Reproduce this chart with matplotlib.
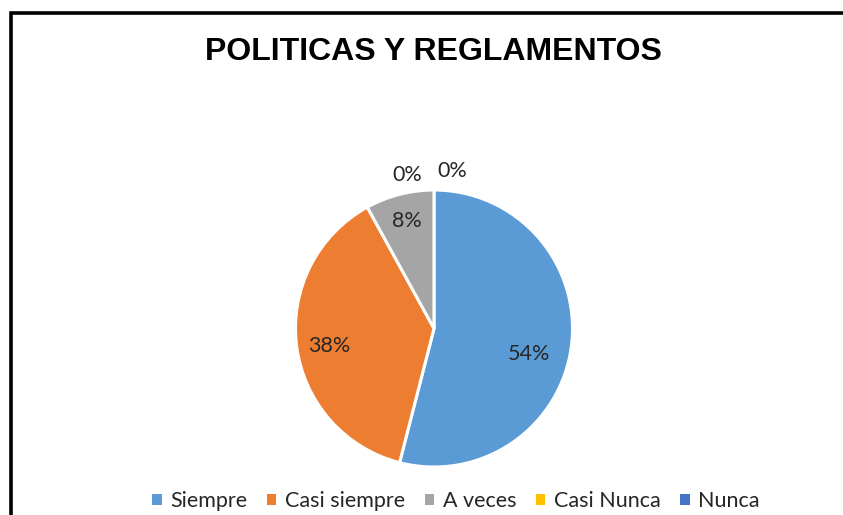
import matplotlib
matplotlib.use("Agg")
import matplotlib.pyplot as plt
from matplotlib.patches import Rectangle, Patch
import numpy as np

title = "POLITICAS Y REGLAMENTOS"
categories = ["Siempre", "Casi siempre", "A veces", "Casi Nunca", "Nunca"]
values = [54, 38, 8, 0, 0]
colors = ["#5B9BD5", "#ED7D31", "#A5A5A5", "#FFC000", "#4472C4"]

W, H = 843, 515
fig = plt.figure(figsize=(W / 100, H / 100), dpi=100)
ax = fig.add_axes([0, 0, 1, 1])

# border
ax.add_patch(Rectangle((10.5, -20), W + 20, H - 12.5 + 20, fill=False,
                       edgecolor="black", linewidth=2.6, zorder=5))

font = "Lato"
cx, cy, r = 434, H - 328.5, 138.5
nz_vals = [v for v in values if v > 0]
nz_cols = [c for v, c in zip(values, colors) if v > 0]
wedges, _ = ax.pie(nz_vals, colors=nz_cols, startangle=90, counterclock=False,
                   center=(cx, cy), radius=r, frame=True,
                   wedgeprops=dict(edgecolor="white", linewidth=2.2))
ax.set_xlim(0, W)
ax.set_ylim(0, H)
ax.set_aspect("equal")
ax.axis("off")

dist = [0.69, 0.76, 0.8]
shift = [-14, -4, 0]
for w, v, d, s in zip(wedges, nz_vals, dist, shift):
    ang = np.deg2rad((w.theta1 + w.theta2) / 2)
    ax.text(cx + d * r * np.cos(ang), cy + d * r * np.sin(ang) + s,
            f"{v}%", ha="center", va="center", fontsize=15.5, family=font, color="#262626")

# zero-value labels outside at top
zero_offsets = [-27, 18]
zero_heights = [1.11, 1.14]
zi = 0
for v in values:
    if v == 0:
        ax.text(cx + zero_offsets[zi], cy + zero_heights[zi] * r, f"{v}%", ha="center",
                va="center", fontsize=15.5, family=font, color="#262626")
        zi += 1

fig.text(433 / W, 1 - 52 / H, title, ha="center", va="center", fontsize=23,
         fontweight="bold", family="Liberation Sans", color="black")

handles = [Patch(facecolor=c, edgecolor="none") for c in colors]
leg = fig.legend(handles, categories, loc="center", bbox_to_anchor=(456 / W, 1 - 501 / H),
                 ncol=5, frameon=False, handlelength=0.45, handleheight=0.45,
                 handletextpad=0.4, columnspacing=0.9,
                 prop=dict(family=font, size=15.5))
for t in leg.get_texts():
    t.set_color("#262626")

fig.savefig("out.png", dpi=100)
